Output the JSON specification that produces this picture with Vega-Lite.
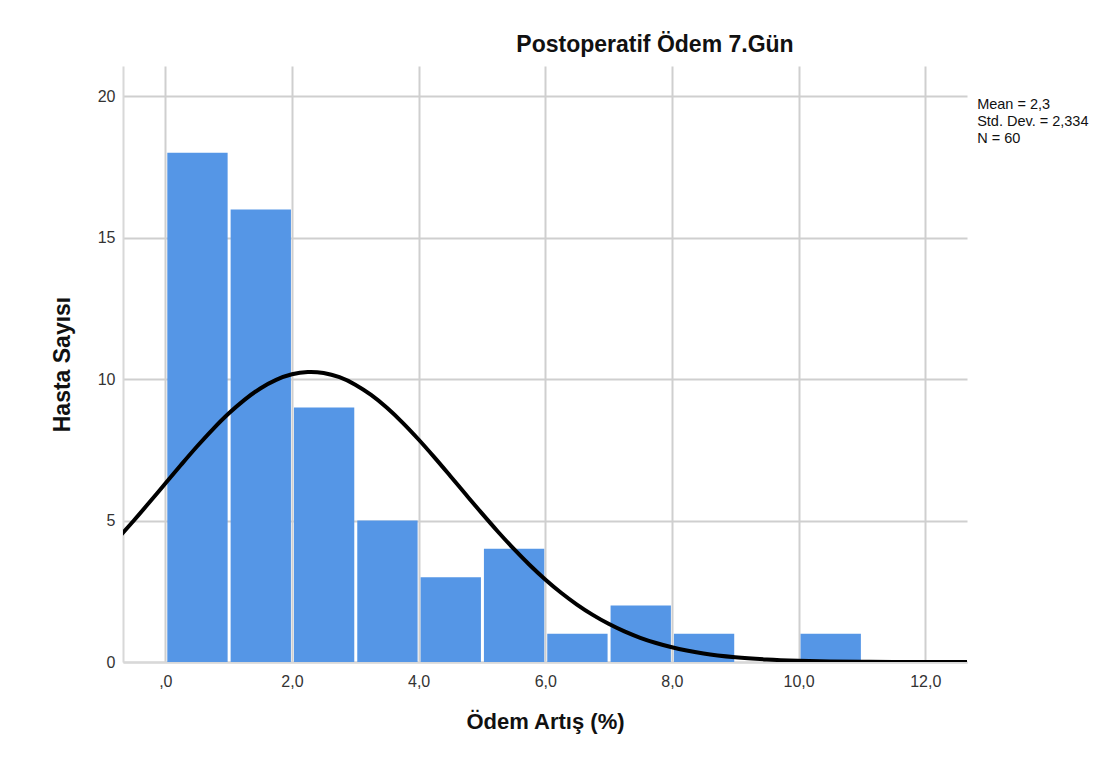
{
  "$schema": "https://vega.github.io/schema/vega-lite/v6.json",
  "autosize": "none",
  "width": 844,
  "height": 596,
  "padding": {"left": 123, "top": 66, "right": 144, "bottom": 105},
  "background": "white",
  "config": {
    "view": {"stroke": null},
    "font": "Liberation Sans",
    "axis": {"grid": true, "gridColor": "#cfcfcf", "gridWidth": 2, "ticks": false, "domainColor": "#d8d8d8", "domainWidth": 2, "labelFont": "Liberation Sans", "labelFontSize": 16, "labelColor": "#333333", "titleFont": "Liberation Sans", "titleFontSize": 22, "titleFontWeight": "bold", "titleColor": "#111111"}
  },
  "title": {"text": "Postoperatif Ödem 7.Gün", "font": "Liberation Sans", "fontSize": 23, "fontWeight": "bold", "color": "#111111", "anchor": "middle", "dx": 110, "offset": 9},
  "datasets": {
    "bars": [
      {"bin_start": 0, "bin_end": 1, "count": 18},
      {"bin_start": 1, "bin_end": 2, "count": 16},
      {"bin_start": 2, "bin_end": 3, "count": 9},
      {"bin_start": 3, "bin_end": 4, "count": 5},
      {"bin_start": 4, "bin_end": 5, "count": 3},
      {"bin_start": 5, "bin_end": 6, "count": 4},
      {"bin_start": 6, "bin_end": 7, "count": 1},
      {"bin_start": 7, "bin_end": 8, "count": 2},
      {"bin_start": 8, "bin_end": 9, "count": 1},
      {"bin_start": 10, "bin_end": 11, "count": 1}
    ],
    "curve": [
      {"x": -0.75, "y": 4.367}, {"x": -0.5, "y": 4.994}, {"x": -0.25, "y": 5.646}, {"x": 0, "y": 6.311},
      {"x": 0.25, "y": 6.973}, {"x": 0.5, "y": 7.618}, {"x": 0.75, "y": 8.226}, {"x": 1, "y": 8.782},
      {"x": 1.25, "y": 9.269}, {"x": 1.5, "y": 9.671}, {"x": 1.75, "y": 9.975}, {"x": 2, "y": 10.171},
      {"x": 2.25, "y": 10.253}, {"x": 2.3, "y": 10.256}, {"x": 2.5, "y": 10.218}, {"x": 2.75, "y": 10.067},
      {"x": 3, "y": 9.805}, {"x": 3.25, "y": 9.44}, {"x": 3.5, "y": 8.986}, {"x": 3.75, "y": 8.456},
      {"x": 4, "y": 7.866}, {"x": 4.25, "y": 7.234}, {"x": 4.5, "y": 6.577}, {"x": 4.75, "y": 5.911},
      {"x": 5, "y": 5.253}, {"x": 5.25, "y": 4.614}, {"x": 5.5, "y": 4.007}, {"x": 5.75, "y": 3.44},
      {"x": 6, "y": 2.919}, {"x": 6.25, "y": 2.449}, {"x": 6.5, "y": 2.032}, {"x": 6.75, "y": 1.666},
      {"x": 7, "y": 1.35}, {"x": 7.25, "y": 1.082}, {"x": 7.5, "y": 0.857}, {"x": 7.75, "y": 0.671},
      {"x": 8, "y": 0.52}, {"x": 8.5, "y": 0.301}, {"x": 9, "y": 0.167}, {"x": 9.5, "y": 0.088},
      {"x": 10, "y": 0.0444}, {"x": 10.5, "y": 0.0214}, {"x": 11, "y": 0.00987}, {"x": 11.5, "y": 0.00434},
      {"x": 12, "y": 0.00182}, {"x": 12.75, "y": 0.000455}
    ]
  },
  "layer": [
    {
      "data": {"name": "bars"},
      "mark": {"type": "bar", "color": "#5596e6", "binSpacing": 3},
      "encoding": {
        "x": {"field": "bin_start", "type": "quantitative", "bin": "binned",
              "scale": {"domain": [-0.668, 12.66], "nice": false, "zero": false},
              "axis": {"values": [0, 2, 4, 6, 8, 10, 12], "labelExpr": "datum.value == 0 ? ',0' : replace(format(datum.value, '.1f'), '.', ',')", "labelPadding": 11, "title": "Ödem Artış (%)", "titlePadding": 22}},
        "x2": {"field": "bin_end"},
        "y": {"field": "count", "type": "quantitative",
              "scale": {"domain": [0, 21.07], "nice": false},
              "axis": {"values": [0, 5, 10, 15, 20], "labelPadding": 8, "title": "Hasta Sayısı", "titleFontSize": 23, "titlePadding": 23}}
      }
    },
    {
      "data": {"name": "curve"},
      "mark": {"type": "line", "color": "#000000", "strokeWidth": 4, "clip": true, "interpolate": "monotone"},
      "encoding": {
        "x": {"field": "x", "type": "quantitative"},
        "y": {"field": "y", "type": "quantitative"}
      }
    },
    {
      "data": {"values": [{}]},
      "mark": {"type": "text", "align": "left", "baseline": "alphabetic", "fontSize": 14.5, "lineHeight": 17, "color": "#111111", "font": "Liberation Sans",
               "text": ["Mean = 2,3", "Std. Dev. = 2,334", "N = 60"]},
      "encoding": {
        "x": {"datum": 12.82, "type": "quantitative"},
        "y": {"datum": 19.55, "type": "quantitative"}
      }
    }
  ]
}
